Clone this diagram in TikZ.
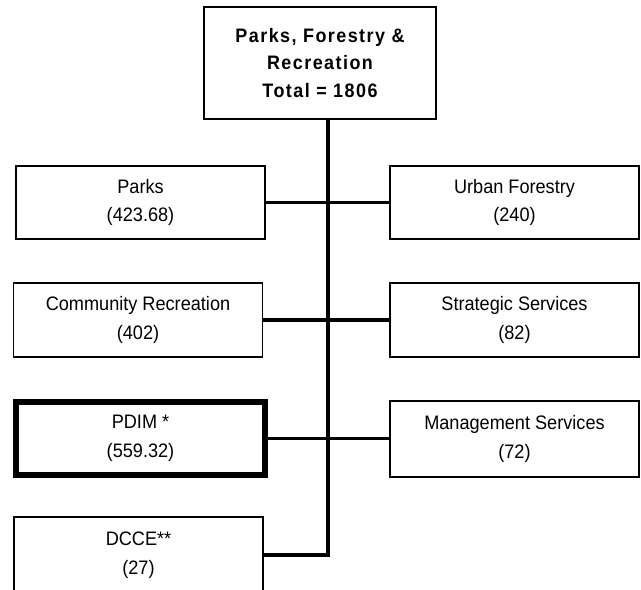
\documentclass[tikz,border=0pt]{standalone}
\usepackage{fontspec}
\setmainfont{Liberation Sans}[FakeStretch=0.93]
\newfontfamily\titlefont{Liberation Sans}[LetterSpace=7.5,FakeStretch=0.92]
\begin{document}
\begin{tikzpicture}[x=1pt,y=-1pt,
  box/.style={draw=black,line width=1.5pt,fill=white,inner sep=0pt,align=center,
    minimum width=249pt,minimum height=73pt,
    font=\fontsize{19.5}{28.5}\selectfont},
  titlebox/.style={draw=black,line width=1.5pt,fill=white,inner sep=0pt,align=center,
    minimum width=232pt,minimum height=112pt,
    font=\titlefont\bfseries\fontsize{19.5}{27.5}\selectfont},
  heavy/.style={line width=6pt},
  conn/.style={draw=black,line width=3.8pt}]
\useasboundingbox (0,0) rectangle (641,590);
\clip (0,0) rectangle (641,590);
\node[titlebox] (top) at (320,63) {Parks, Forestry \&\\Recreation\\Total = 1806};
\coordinate (trunk) at (328,0);
\node[box] (parks) at (140.5,202.5) {Parks\\(423.68)};
\node[box] (urban) at (514.5,202.5) {Urban Forestry\\(240)};
\node[box,minimum height=74pt] (comm) at (138,320) {Community Recreation\\(402)};
\node[box,minimum height=74pt] (strat) at (514.5,320) {Strategic Services\\(82)};
\node[box,heavy] (pdim) at (140.5,438.5) {PDIM *\\(559.32)};
\node[box,minimum height=76pt] (mgmt) at (514.5,439) {Management Services\\(72)};
\node[box,minimum height=76pt] (dcce) at (138.5,555) {DCCE**\\(27)};
\draw[conn] (top.south -| trunk) |- (dcce.east);
\draw[conn] (parks.east) -- (urban.west);
\draw[conn] (comm.east) -- (strat.west);
\draw[conn] (pdim.east) -- (pdim.east -| mgmt.west);
\end{tikzpicture}
\end{document}
